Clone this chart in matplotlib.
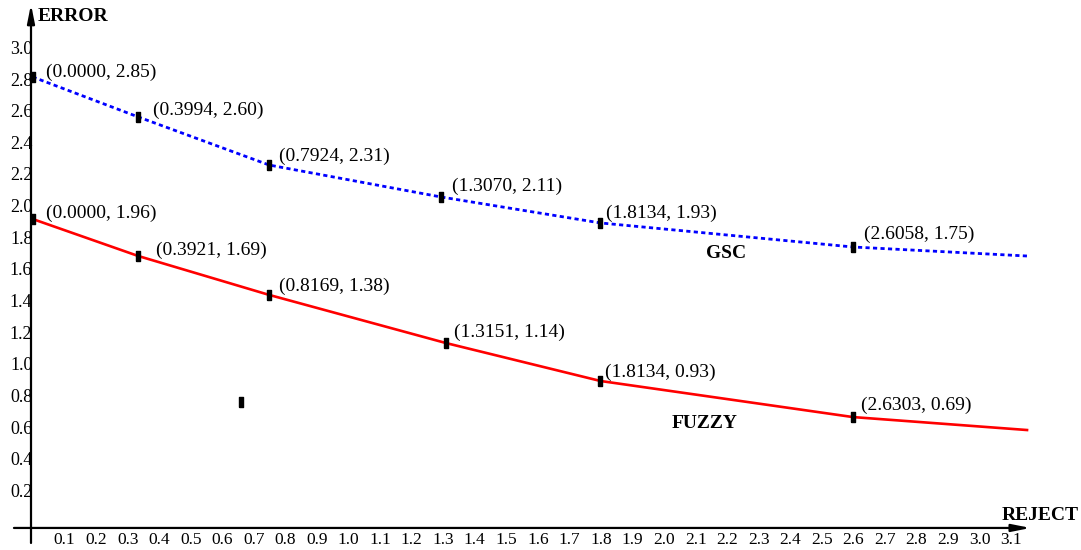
import matplotlib
matplotlib.use("Agg")
import matplotlib.pyplot as plt
import numpy as np

# =========================================================
# Data
# =========================================================
GSC_X = [0.005, 0.34, 0.755, 1.30, 1.805, 2.605]
GSC_Y = [2.826, 2.573, 2.269, 2.067, 1.903, 1.751]
GSC_END = (3.157, 1.694)
GSC_LABELS = ["(0.0000, 2.85)", "(0.3994, 2.60)", "(0.7924, 2.31)",
              "(1.3070, 2.11)", "(1.8134, 1.93)", "(2.6058, 1.75)"]

FUZZY_X = [0.005, 0.34, 0.755, 1.315, 1.805, 2.605]
FUZZY_Y = [1.928, 1.694, 1.448, 1.144, 0.904, 0.676]
FUZZY_END = (3.157, 0.594)
FUZZY_LABELS = ["(0.0000, 1.96)", "(0.3921, 1.69)", "(0.8169, 1.38)",
                "(1.3151, 1.14)", "(1.8134, 0.93)", "(2.6303, 0.69)"]

STRAY_X = [0.666]
STRAY_Y = [0.771]

X_TICKS = [round(0.1 * i, 1) for i in range(1, 32)]
Y_TICKS = [round(0.2 * i, 1) for i in range(1, 16)]

# label offsets in pixels (dx right, dy up) relative to each marker
GSC_OFFSETS = [(13, 5), (15, 7), (10, 9), (11, 11), (6, 10), (11, 13)]
FUZZY_OFFSETS = [(13, 6), (18, 6), (10, 9), (8, 11), (5, 9), (8, 12)]

# =========================================================
# Figure
# =========================================================
DPI = 100
PX = 72.0 / DPI  # points per pixel
SERIF = "Liberation Serif"

fig = plt.figure(figsize=(10.81, 5.5), dpi=DPI)
ax = fig.add_axes([0, 0, 1, 1])
ax.set_xlim(-31 / 315.5, (1081 - 31) / 315.5)
ax.set_ylim(-26 / 158.2, 524 / 158.2)
ax.axis("off")

# axes with arrows
arrow = dict(arrowstyle="-|>,head_length=0.55,head_width=0.11", lw=1.6,
             color="black", mutation_scale=20, shrinkA=0, shrinkB=0)
ax.annotate("", xy=(0, 3.285), xytext=(0, -0.12), arrowprops=arrow, zorder=4)
ax.annotate("", xy=(3.168, -0.025), xytext=(-0.054, -0.025), arrowprops=arrow, zorder=4)

ax.text(0.022, 3.21, "ERROR", fontfamily=SERIF, fontweight="bold", fontsize=14,
        ha="left", va="center")
ax.text(3.078, 0.055, "REJECT", fontfamily=SERIF, fontweight="bold", fontsize=14,
        ha="left", va="center")

# tick labels
for v in X_TICKS:
    ax.annotate(f"{v:.1f}", xy=(v, -0.025), xytext=(1.5, -9), textcoords="offset points",
                fontfamily=SERIF, fontsize=12.5, ha="center", va="center", color="black")
for v in Y_TICKS:
    ax.annotate(f"{v:.1f}", xy=(0, v), xytext=(1, 0), textcoords="offset points",
                fontfamily=SERIF, fontsize=13, ha="right", va="center",
                color="black", zorder=2)

# curves
marker = [(-0.5, -1), (0.5, -1), (0.5, 1), (-0.5, 1), (-0.5, -1)]
ax.plot(GSC_X + [GSC_END[0]], GSC_Y + [GSC_END[1]], color="#0000ff", lw=2.0,
        dashes=(1.5, 1.2), zorder=3)
ax.plot(FUZZY_X + [FUZZY_END[0]], FUZZY_Y + [FUZZY_END[1]], color="#ff0000", lw=1.9,
        zorder=3)
ax.plot(GSC_X, GSC_Y, ls="none", marker=marker, ms=6.5, color="black", zorder=5)
ax.plot(FUZZY_X, FUZZY_Y, ls="none", marker=marker, ms=6.5, color="black", zorder=5)
ax.plot(STRAY_X, STRAY_Y, ls="none", marker=marker, ms=6.5, color="black", zorder=5)

for x, y, lab, (dx, dy) in zip(GSC_X, GSC_Y, GSC_LABELS, GSC_OFFSETS):
    ax.annotate(lab, xy=(x, y), xytext=(dx * PX, dy * PX), textcoords="offset points",
                fontfamily=SERIF, fontsize=14, ha="left", va="center")
for x, y, lab, (dx, dy) in zip(FUZZY_X, FUZZY_Y, FUZZY_LABELS, FUZZY_OFFSETS):
    ax.annotate(lab, xy=(x, y), xytext=(dx * PX, dy * PX), textcoords="offset points",
                fontfamily=SERIF, fontsize=14, ha="left", va="center")

ax.text(2.139, 1.707, "GSC", fontfamily=SERIF, fontweight="bold", fontsize=14,
        ha="left", va="center")
ax.text(2.032, 0.638, "FUZZY", fontfamily=SERIF, fontweight="bold", fontsize=14,
        ha="left", va="center")

fig.savefig("out.png", dpi=DPI)
